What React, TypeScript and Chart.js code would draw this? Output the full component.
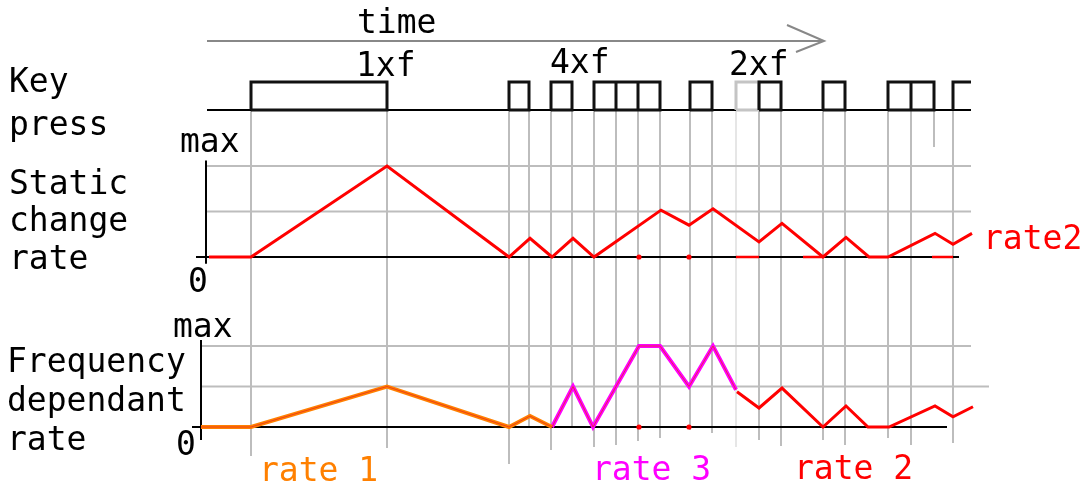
import React, { useEffect, useRef } from "react";
import { Chart, registerables } from "chart.js";
Chart.register(...registerables);

const W = 1092;
const H = 494;

// ---- data (time units along the x axis) ----
const pressStart = [44, 302, 344, 387, 409, 431, 483, 529, 552, 616, 681, 704, 746];
const pressEnd = [180, 322, 365, 409, 431, 453, 505, 552, 574, 638, 704, 727, 764];
const greyPress = 7;
const openPress = 12;
const keyLineEnd = 764;

const staticT = [2, 44, 180, 302, 323, 345, 366, 387, 454, 482, 506, 552, 575, 616, 639, 662, 681, 728, 746, 765];
const staticV = [0, 0, 2, 0, 0.41, 0, 0.41, 0, 1.03, 0.7, 1.06, 0.33, 0.74, 0, 0.43, 0, 0, 0.52, 0.28, 0.52];
const staticFlatStart = [529, 596, 725];
const staticFlatEnd = [552, 616, 746];
const dotT = [432, 482];

const rate1T = [-6, 44, 180, 302, 323, 345];
const rate1V = [0, 0, 1, 0, 0.27, 0];
const rate3T = [345, 366, 386, 432, 453, 482, 506, 529];
const rate3V = [0, 1, 0, 2, 2, 1, 2, 0.92];
const rate2T = [530, 552, 575, 616, 639, 661, 682, 728, 746, 766];
const rate2V = [0.87, 0.47, 0.96, 0, 0.52, 0, 0, 0.52, 0.25, 0.5];

const gridEdges = [44, 180, 302, 322, 344, 365, 387, 409, 431, 453, 483, 505, 529, 552, 574, 616, 638, 681, 704, 727, 746];
// style: how far each guide line runs below the lower panel's zero line (px)
const gridTails = [29, 21, 37, 0, 23, 1, 20, 18, 14, 11, 3, 6, 20, 13, 19, 13, 18, 11, 18, 0, 16];
const shortEdge = 727;
const lightEdge = 529;

const ORANGE = "#ff8000";
const MAGENTA = "#ff00ff";
const RED = "#ff0000";
const GRID = "#bdbdbd";
const FONT = '33px "DejaVu Sans Mono", monospace';

const texts: [string, number, number, string][] = [
  ["time", 357, 33, "#000"],
  ["1xf", 356, 76, "#000"],
  ["4xf", 550, 73, "#000"],
  ["2xf", 729, 75, "#000"],
  ["Key", 9, 92, "#000"],
  ["press", 9, 135, "#000"],
  ["max", 180, 152, "#000"],
  ["Static", 9, 194, "#000"],
  ["change", 9, 231, "#000"],
  ["rate", 9, 269, "#000"],
  ["0", 188, 292, "#000"],
  ["rate2", 983, 249, RED],
  ["max", 173, 337, "#000"],
  ["Frequency", 7, 372, "#000"],
  ["dependant", 7, 411, "#000"],
  ["rate", 7, 450, "#000"],
  ["0", 176, 455, "#000"],
  ["rate 1", 259, 481, ORANGE],
  ["rate 3", 592, 480, MAGENTA],
  ["rate 2", 794, 479, RED],
];

const mk = (ts: number[], vs: number[]) => ts.map((t, i) => ({ x: t, y: vs[i] }));

function boxPoints(idxs: number[]) {
  const pts: { x: number; y: number | null }[] = [];
  idxs.forEach((i) => {
    const s = pressStart[i];
    const e = pressEnd[i];
    if (i === openPress) {
      pts.push({ x: s, y: 0 }, { x: s, y: 1 }, { x: e, y: 1 });
    } else {
      pts.push({ x: s, y: 0 }, { x: s, y: 1 }, { x: e, y: 1 }, { x: e, y: 0 }, { x: s, y: 0 });
    }
    pts.push({ x: e, y: null });
  });
  return pts;
}

function flatPoints(starts: number[], ends: number[]) {
  const pts: { x: number; y: number | null }[] = [];
  starts.forEach((s, i) => {
    pts.push({ x: s, y: 0 }, { x: ends[i], y: 0 }, { x: ends[i], y: null });
  });
  return pts;
}

// panel geometry: zero-line pixel and pixels per unit
const panel = (zeroPx: number, unitPx: number) => ({
  min: -(H - zeroPx) / unitPx,
  max: zeroPx / unitPx,
});

const decorPlugin = {
  id: "decor",
  beforeDatasetsDraw(chart: any) {
    const ctx = chart.ctx;
    const xs = chart.scales.x;
    const yK = chart.scales.yKey;
    const yS = chart.scales.yStatic;
    const yF = chart.scales.yFreq;
    const X = (t: number) => xs.getPixelForValue(t);
    ctx.save();
    ctx.lineCap = "butt";
    // vertical guide lines
    gridEdges.forEach((t, i) => {
      let top = yK.getPixelForValue(0);
      let bottom = yF.getPixelForValue(0) + gridTails[i];
      if (t === shortEdge) {
        top = yK.getPixelForValue(0.25);
        bottom = yS.getPixelForValue(2.42);
      }
      ctx.strokeStyle = t === lightEdge ? "#dedede" : GRID;
      ctx.lineWidth = t === lightEdge ? 1.5 : 2;
      ctx.beginPath();
      ctx.moveTo(X(t), top);
      ctx.lineTo(X(t), bottom);
      ctx.stroke();
    });
    const hline = (y: number, t0: number, t1: number, color: string, w: number) => {
      ctx.strokeStyle = color;
      ctx.lineWidth = w;
      ctx.beginPath();
      ctx.moveTo(X(t0), y);
      ctx.lineTo(X(t1), y);
      ctx.stroke();
    };
    const vline = (x: number, y0: number, y1: number, color: string, w: number) => {
      ctx.strokeStyle = color;
      ctx.lineWidth = w;
      ctx.beginPath();
      ctx.moveTo(x, y0);
      ctx.lineTo(x, y1);
      ctx.stroke();
    };
    // horizontal grid lines
    hline(yS.getPixelForValue(1), 0, 764, GRID, 2);
    hline(yS.getPixelForValue(2), 0, 764, GRID, 2);
    hline(yF.getPixelForValue(2), -6, 764, GRID, 2);
    hline(yF.getPixelForValue(1), -6, 782, GRID, 2);
    // axes
    vline(X(-1), yS.getPixelForValue(2.12), yS.getPixelForValue(-0.15), "#000", 2);
    hline(yS.getPixelForValue(0), -11, 752, "#000", 2);
    vline(X(-6), yF.getPixelForValue(2.15), yF.getPixelForValue(-0.32), "#000", 2);
    hline(yF.getPixelForValue(0), -15, 740, "#000", 2);
    // key press baseline
    hline(yK.getPixelForValue(0), 0, keyLineEnd, "#000", 2);
    // time arrow
    const ay = 41;
    ctx.strokeStyle = "#888";
    ctx.lineWidth = 2;
    ctx.beginPath();
    ctx.moveTo(X(0), ay);
    ctx.lineTo(X(617), ay);
    ctx.moveTo(X(580), ay - 16);
    ctx.lineTo(X(617), ay);
    ctx.lineTo(X(589), ay + 11);
    ctx.stroke();
    ctx.restore();
  },
  afterDraw(chart: any) {
    const ctx = chart.ctx;
    ctx.save();
    ctx.font = FONT;
    ctx.textBaseline = "alphabetic";
    ctx.textAlign = "left";
    texts.forEach(([s, x, y, c]) => {
      ctx.fillStyle = c;
      ctx.fillText(s, x, y);
    });
    ctx.restore();
  },
};

export default function App() {
  const ref = useRef<HTMLCanvasElement | null>(null);
  useEffect(() => {
    if (!ref.current) return;
    const greyIdx = pressStart.map((_, i) => i).filter((i) => i === greyPress);
    const blackIdx = pressStart.map((_, i) => i).filter((i) => i !== greyPress);
    const line = (data: any[], color: string, width: number, yAxisID: string, order: number) => ({
      data,
      borderColor: color,
      backgroundColor: color,
      borderWidth: width,
      pointRadius: 0,
      fill: false,
      tension: 0,
      spanGaps: false,
      yAxisID,
      order,
      borderJoinStyle: "miter" as const,
    });
    const chart = new Chart(ref.current, {
      type: "line",
      data: {
        datasets: [
          line(boxPoints(blackIdx), "#111", 3, "yKey", 2),
          line(boxPoints(greyIdx), "#c4c4c4", 3, "yKey", 2),
          line(mk(staticT, staticV), RED, 3, "yStatic", 1),
          line(flatPoints(staticFlatStart, staticFlatEnd), RED, 2.5, "yStatic", 1),
          {
            ...line(dotT.map((t) => ({ x: t, y: 0 })), RED, 0, "yStatic", 0),
            showLine: false,
            pointRadius: 2.6,
            pointBorderWidth: 0,
          },
          line(mk(rate1T, rate1V), ORANGE, 4, "yFreq", 3),
          line(mk(rate3T, rate3V), MAGENTA, 4, "yFreq", 3),
          line(mk(rate1T.concat(rate3T), rate1V.concat(rate3V)), "#e83020", 0.8, "yFreq", 1),
          line(mk(rate2T, rate2V), RED, 3, "yFreq", 1),
          {
            ...line(dotT.map((t) => ({ x: t, y: 0 })), RED, 0, "yFreq", 0),
            showLine: false,
            pointRadius: 2.6,
            pointBorderWidth: 0,
          },
        ],
      },
      options: {
        animation: false,
        responsive: false,
        devicePixelRatio: 1,
        events: [],
        layout: { padding: 0, autoPadding: false },
        plugins: { legend: { display: false }, tooltip: { enabled: false }, title: { display: false } },
        scales: {
          x: { type: "linear", display: false, min: -207, max: W - 207 },
          yKey: { type: "linear", display: false, ...panel(110, 28) },
          yStatic: { type: "linear", display: false, ...panel(257, 45.5) },
          yFreq: { type: "linear", display: false, ...panel(427, 40.5) },
        },
      },
      plugins: [decorPlugin],
    });
    return () => chart.destroy();
  }, []);
  return (
    <div style={{ position: "absolute", left: 0, top: 0, width: W, height: H, background: "#fff" }}>
      <canvas ref={ref} width={W} height={H} style={{ display: "block" }} />
    </div>
  );
}
